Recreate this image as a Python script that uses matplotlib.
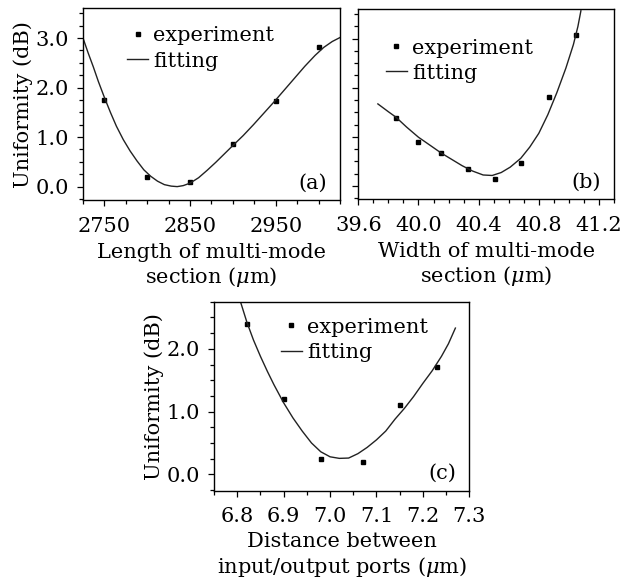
import numpy as np
import matplotlib.pyplot as plt
from matplotlib.ticker import MultipleLocator, FixedLocator, FormatStrFormatter

plt.rcParams['font.family'] = 'DejaVu Serif'
plt.rcParams['mathtext.fontset'] = 'dejavuserif'
FS = 15

# ---- panel (a): length of multi-mode section ----
len_exp_x = [2750, 2800, 2850, 2900, 2950, 3000]
len_exp_y = [1.75, 0.19, 0.09, 0.87, 1.72, 2.81]
len_fit_x = [2725, 2731, 2737, 2743, 2750, 2757, 2764, 2772, 2780, 2788,
             2796, 2804, 2812, 2820, 2828, 2835, 2842, 2850, 2860, 2870,
             2880, 2890, 2900, 2912, 2924, 2936, 2948, 2960, 2972, 2984,
             2996, 3006, 3016, 3025]
len_fit_y = [3.00, 2.70, 2.42, 2.12, 1.80, 1.50, 1.22, 0.95, 0.72, 0.52,
             0.34, 0.21, 0.11, 0.04, 0.01, 0.00, 0.02, 0.07, 0.18, 0.33,
             0.49, 0.66, 0.83, 1.03, 1.25, 1.48, 1.71, 1.95, 2.19, 2.43,
             2.65, 2.81, 2.93, 3.01]

# ---- panel (b): width of multi-mode section ----
wid_exp_x = [39.85, 40.00, 40.15, 40.33, 40.51, 40.68, 40.87, 41.05]
wid_exp_y = [1.38, 0.90, 0.67, 0.34, 0.13, 0.46, 1.82, 3.08]
wid_fit_x = [39.73, 39.80, 39.85, 39.92, 40.00, 40.08, 40.15, 40.22, 40.29,
             40.36, 40.43, 40.49, 40.55, 40.61, 40.68, 40.74, 40.80, 40.86,
             40.92, 40.98, 41.03, 41.06, 41.08]
wid_fit_y = [1.67, 1.51, 1.40, 1.20, 0.99, 0.82, 0.67, 0.54, 0.41,
             0.30, 0.22, 0.21, 0.27, 0.38, 0.56, 0.79, 1.07, 1.45,
             1.90, 2.40, 2.88, 3.25, 3.57]

# ---- panel (c): distance between input/output ports ----
dist_exp_x = [6.82, 6.90, 6.98, 7.07, 7.15, 7.23]
dist_exp_y = [2.40, 1.20, 0.24, 0.19, 1.11, 1.71]
dist_fit_x = [6.807, 6.821, 6.835, 6.85, 6.865, 6.879, 6.90, 6.92, 6.94,
              6.96, 6.98, 7.00, 7.02, 7.04, 7.06, 7.08, 7.10, 7.12, 7.14,
              7.16, 7.18, 7.20, 7.22, 7.24, 7.255, 7.27]
dist_fit_y = [2.75, 2.42, 2.14, 1.88, 1.64, 1.43, 1.14, 0.90, 0.69,
              0.50, 0.36, 0.28, 0.255, 0.26, 0.33, 0.43, 0.55, 0.69, 0.88,
              1.05, 1.24, 1.45, 1.65, 1.88, 2.08, 2.33]

fig = plt.figure(figsize=(6.36, 5.79), dpi=100)
ax_a = fig.add_axes([0.1305, 0.6546, 0.404, 0.331])
ax_b = fig.add_axes([0.5634, 0.6563, 0.402, 0.3276])
ax_c = fig.add_axes([0.3365, 0.1525, 0.4014, 0.3264])


def draw(ax, ex, ey, fx, fy, legend_x, legend_y, tag):
    ax.plot(ex, ey, 's', color='black', markersize=2.4, label='experiment')
    ax.plot(fx, fy, '-', color='#222222', linewidth=1.0, label='fitting')
    ax.tick_params(which='both', direction='out', top=False, right=False,
                   labelsize=FS, width=0.9, pad=6)
    ax.tick_params(axis='x', which='both', pad=8)
    ax.tick_params(which='major', length=4)
    ax.tick_params(which='minor', length=3)
    for sp in ax.spines.values():
        sp.set_linewidth(1.0)
    ax.legend(loc='upper left', bbox_to_anchor=(legend_x, legend_y),
              frameon=False, handlelength=1.0, handletextpad=0.25,
              labelspacing=0.3, borderaxespad=0.0, fontsize=FS)
    ax.text(0.95, 0.04, tag, transform=ax.transAxes, ha='right', va='bottom',
            fontsize=FS)


draw(ax_a, len_exp_x, len_exp_y, len_fit_x, len_fit_y, 0.14, 0.95, '(a)')
ax_a.set_xlim(2725, 3025)
ax_a.set_ylim(-0.27, 3.6)
ax_a.xaxis.set_major_locator(FixedLocator([2750, 2850, 2950]))
ax_a.xaxis.set_minor_locator(MultipleLocator(25))
ax_a.yaxis.set_major_locator(MultipleLocator(1.0))
ax_a.yaxis.set_minor_locator(MultipleLocator(0.25))
ax_a.yaxis.set_major_formatter(FormatStrFormatter('%.1f'))
ax_a.set_xlabel('Length of multi-mode\nsection ($\\mu$m)', fontsize=FS,
                labelpad=5)
ax_a.set_ylabel('Uniformity (dB)', fontsize=FS, labelpad=2)

draw(ax_b, wid_exp_x, wid_exp_y, wid_fit_x, wid_fit_y, 0.075, 0.89, '(b)')
ax_b.set_xlim(39.6, 41.3)
ax_b.set_ylim(-0.27, 3.6)
ax_b.xaxis.set_major_locator(MultipleLocator(0.4))
ax_b.xaxis.set_minor_locator(MultipleLocator(0.1))
ax_b.xaxis.set_major_formatter(FormatStrFormatter('%.1f'))
ax_b.yaxis.set_major_locator(MultipleLocator(1.0))
ax_b.yaxis.set_minor_locator(MultipleLocator(0.25))
ax_b.tick_params(axis='y', labelleft=False)
ax_b.set_xlabel('Width of multi-mode\nsection ($\\mu$m)', fontsize=FS,
                labelpad=5)

draw(ax_c, dist_exp_x, dist_exp_y, dist_fit_x, dist_fit_y, 0.23, 0.96, '(c)')
ax_c.set_xlim(6.75, 7.3)
ax_c.set_ylim(-0.26, 2.75)
ax_c.xaxis.set_major_locator(MultipleLocator(0.1))
ax_c.xaxis.set_minor_locator(MultipleLocator(0.05))
ax_c.xaxis.set_major_formatter(FormatStrFormatter('%.1f'))
ax_c.yaxis.set_major_locator(MultipleLocator(1.0))
ax_c.yaxis.set_minor_locator(MultipleLocator(0.25))
ax_c.yaxis.set_major_formatter(FormatStrFormatter('%.1f'))
ax_c.set_xlabel('Distance between\ninput/output ports ($\\mu$m)', fontsize=FS,
                labelpad=4)
ax_c.set_ylabel('Uniformity (dB)', fontsize=FS, labelpad=2)

fig.savefig('out.png', dpi=100)
